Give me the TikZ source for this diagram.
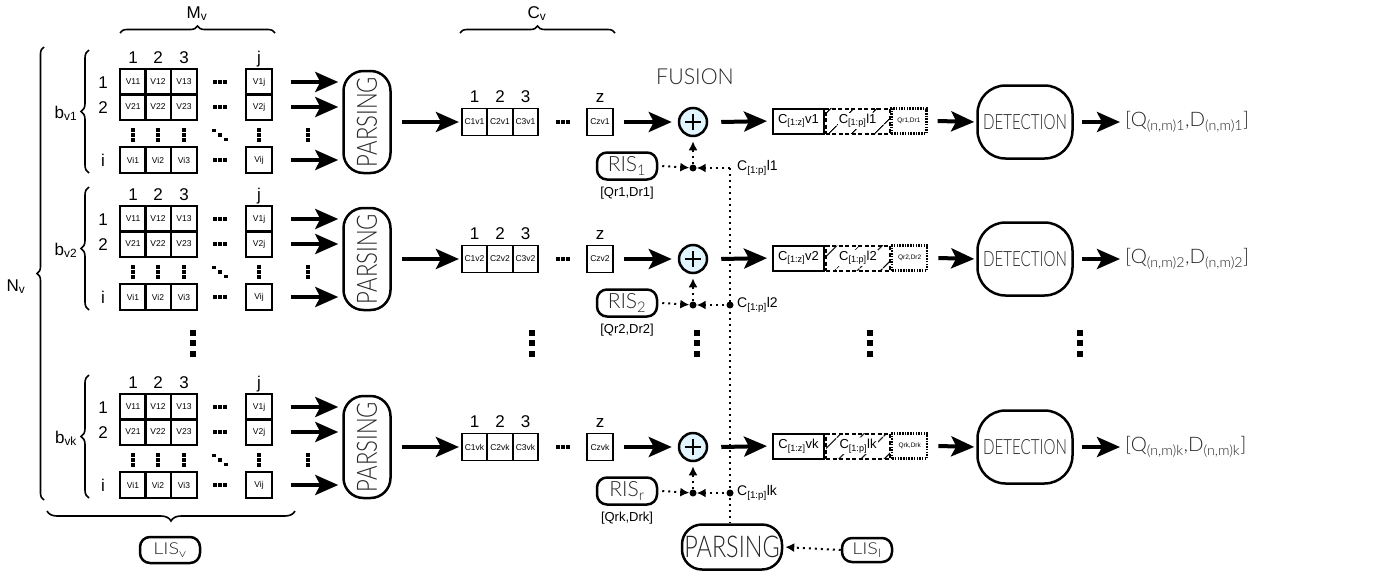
\documentclass[tikz,border=0pt]{standalone}
\usepackage{fontspec}
\usepackage{graphicx}
\setmainfont{Liberation Sans}
\IfFontExistsTF{Lato Light}{\newfontfamily\thinfont{Lato Light}}{\newfontfamily\thinfont{Lato}}
\usetikzlibrary{arrows.meta,decorations.pathreplacing,patterns.meta}

% three small squares, #5=1 vertical, 0 horizontal
\newcommand{\sqdots}[5]{%
  \foreach \t in {-1,0,1}{%
    \ifnum#5=1 \fill (#1-#3/2,#2+\t*#4-#3/2) rectangle ++(#3,#3);%
    \else \fill (#1+\t*#4-#3/2,#2-#3/2) rectangle ++(#3,#3);\fi}}
% light text: size, horizontal scale, text
\newcommand{\lighttxt}[3]{{\color{black!85}\thinfont\fontsize{#1}{#1}\selectfont\scalebox{#2}[1]{#3}}}

\tikzset{
  lbl/.style={inner sep=0pt, font=\fontsize{17}{17}\selectfont, text height=12.3pt, text depth=0pt},
  slbl/.style={inner sep=0pt, font=\fontsize{13}{13}\selectfont},
  cell/.style={draw, line width=1.6pt, minimum width=25.5pt, minimum height=25.5pt, inner sep=0pt, font=\fontsize{8.5}{9}\selectfont},
  ccell/.style={cell, minimum height=27pt},
  cbox/.style={draw, line width=2pt, minimum width=51pt, minimum height=25pt, inner sep=0pt, font=\fontsize{13}{13}\selectfont},
  hbox/.style={cbox, dash pattern=on 4pt off 2.5pt, minimum width=64pt, pattern={Lines[angle=45,distance=17pt,line width=1.2pt]}},
  qbox/.style={cbox, line width=2.4pt, dash pattern=on 1.5pt off 1.2pt, minimum width=35pt, fill=white, font=\fontsize{6.5}{6.5}\selectfont},
  bigarr/.style={line width=4pt, -{Stealth[length=23pt,width=20pt,inset=5pt]}},
  dotline/.style={line width=2pt, dash pattern=on 2pt off 4pt},
  dotarr/.style={dotline, -{Latex[length=9pt,width=9pt]}},
  roundbox/.style={draw, line width=2.5pt, inner sep=0pt},
  brc/.style={decorate, decoration={brace, amplitude=8pt}, line width=1.6pt},
  plus/.style={circle, draw, line width=2.5pt, fill=cyan!12, minimum size=28pt, inner sep=0pt,
    path picture={\draw[line width=2.6pt] (path picture bounding box.center) ++(-8pt,0) -- ++(16pt,0)
      (path picture bounding box.center) ++(0,-8pt) -- ++(0,16pt);}},
  jdot/.style={circle, fill, inner sep=0pt, minimum size=7pt},
}

\begin{document}
\begin{tikzpicture}[x=1pt, y=-1pt]
  \useasboundingbox (0,0) rectangle (1400,573);
  \draw[brc, decoration={amplitude=7pt}] (44,500) -- (44,47);
  \node[lbl] (nv) at (16,285) {N\textsubscript{v}};
  \draw[brc, decoration={amplitude=7pt}] (120,33) -- (275,33);
  \node[lbl] (mv) at (197,12) {M\textsubscript{v}};
  \draw[brc, decoration={amplitude=7pt}] (460,33) -- (615,33);
  \node[lbl] (cv) at (537,12) {C\textsubscript{v}};
  \node[inner sep=0pt] (fus) at (695,77) {\lighttxt{22}{0.97}{FUSION}};

  \foreach \n/\dy/\s/\rs in {1/0/1/1, 2/137/2/2, k/325/k/r} {
    % block of the matrix
    \draw[brc] (89,173+\dy) -- (89,50+\dy);
    \node[lbl] (b\n) at (66,112+\dy) {b\textsubscript{v\s}};
    \foreach \cl/\cx in {1/133,2/158,3/184,j/259}
      \node[lbl] (col\n\cl) at (\cx,57+\dy) {\cl};
    \foreach \rw/\ry in {1/82,2/107,i/160} {
      \node[lbl] (row\n\rw) at (103,\ry+\dy) {\rw};
      \foreach \cl/\cx in {1/133,2/158,3/184,j/259}
        \node[cell] (m\n\rw\cl) at (\cx,\ry+\dy) {V\rw\cl};
      \sqdots{220}{\ry+\dy}{3.4}{5}{0}
    }
    \foreach \cx in {133,158,184,259,308} {
      \sqdots{\cx}{135+\dy}{3.4}{5}{1}
    }
    \foreach \t in {-1,0,1}
      \fill (220+\t*6-1.7,135+\dy+\t*4.5-1.7) rectangle ++(3.4,3.4);
    \node[roundbox, rounded corners=20pt, minimum width=47pt, minimum height=102pt] (p\n) at (367,122+\dy)
      {\rotatebox{90}{\lighttxt{28}{0.79}{PARSING}}};
    \foreach \rw in {1,2,i}
      \draw[bigarr, shorten >=4pt] ([xshift=18pt]m\n\rw j.east) -- (m\n\rw j.east -| p\n.west);

    % C vector
    \foreach \cl/\cx in {1/474.5,2/500,3/525.5,z/600} {
      \node[lbl] (cn\n\cl) at (\cx,96+\dy) {\cl};
      \node[ccell] (c\n\cl) at (\cx,122+\dy) {C\cl v\s};
    }
    \sqdots{563}{122+\dy}{3.4}{5}{0}
    \draw[bigarr, shorten >=2pt] ([xshift=10pt]p\n.east) -- (c\n1.west);

    % fusion
    \node[plus] (f\n) at (693,122+\dy) {};
    \draw[bigarr, shorten >=6pt] ([xshift=10pt]c\n z.east) -- (f\n.west);
    \node[roundbox, rounded corners=10pt, minimum width=60pt, minimum height=27pt] (ris\n) at (627,166+\dy)
      {\lighttxt{21}{1}{RIS\textsubscript{\rs}}};
    \node[slbl] (q\n) at (627,193+\dy) {[Qr\s,Dr\s]};
    \node[jdot] (j\n) at (693,168+\dy) {};
    \coordinate (v\n) at (730,168+\dy);
    \draw[dotarr] ([xshift=4pt]ris\n.east) -- (j\n);
    \draw[dotarr] (v\n) -- (j\n);
    \draw[dotarr, shorten >=4pt] (j\n) -- (f\n.south);
    \node[slbl, font=\fontsize{14}{14}\selectfont, anchor=west] (cl\n) at ([xshift=7pt]v\n) {C\textsubscript{[1:p]}l\s};

    % concatenated vector
    \node[cbox] (ca\n) at (798.5,121+\dy) {C\textsubscript{[1:z]}v\s};
    \node[hbox, anchor=west] (cb\n) at (ca\n.east) {};
    \node[inner sep=1pt, fill=white, font=\fontsize{13}{13}\selectfont] (cbt\n) at (cb\n) {C\textsubscript{[1:p]}l\s};
    \node[qbox, anchor=west] (cc\n) at (cb\n.east) {Qr\s,Dr\s};
    \draw[bigarr, shorten >=5pt] ([xshift=13pt]f\n.east) -- (ca\n.west);

    % detection
    \node[roundbox, rounded corners=28pt, minimum width=95pt, minimum height=73pt] (d\n) at (1025,122+\dy)
      {\lighttxt{21}{0.72}{DETECTION}};
    \draw[bigarr, shorten >=2pt] ([xshift=10pt]cc\n.east) -- (d\n.west);
    \node[inner sep=0pt, anchor=west] (o\n) at (1125,122+\dy)
      {\lighttxt{20}{1.02}{[Q\textsubscript{(n,m)\s},D\textsubscript{(n,m)\s}]}};
    \draw[bigarr, shorten >=5pt] ([xshift=8pt]d\n.east) -- (o\n.west);
  }
  \node[jdot] (vd2) at (v2) {};
  \node[jdot] (vdk) at (vk) {};
  \foreach \x in {193,532,697,870,1080} {
    \sqdots{\x}{343}{6}{10.5}{1}
  }

  % bottom part
  \draw[brc, decoration={amplitude=10pt}] (295,511) -- (47,511);
  \node[roundbox, rounded corners=10pt, minimum width=60pt, minimum height=26pt] (lisv) at (170,550)
    {\lighttxt{16.5}{1.2}{LIS\textsubscript{v}}};
  \node[roundbox, rounded corners=20pt, minimum width=100pt, minimum height=45pt] (pb) at (732,547)
    {\lighttxt{30}{0.78}{PARSING}};
  \node[roundbox, rounded corners=10pt, minimum width=50pt, minimum height=24pt] (lisl) at (867,550)
    {\lighttxt{16.5}{1.2}{LIS\textsubscript{l}}};
  \draw[dotline] (v1) -- (v1 |- pb.north);
  \draw[dotarr, shorten >=2pt] (lisl.west) -- (pb.east);
\end{tikzpicture}
\end{document}
